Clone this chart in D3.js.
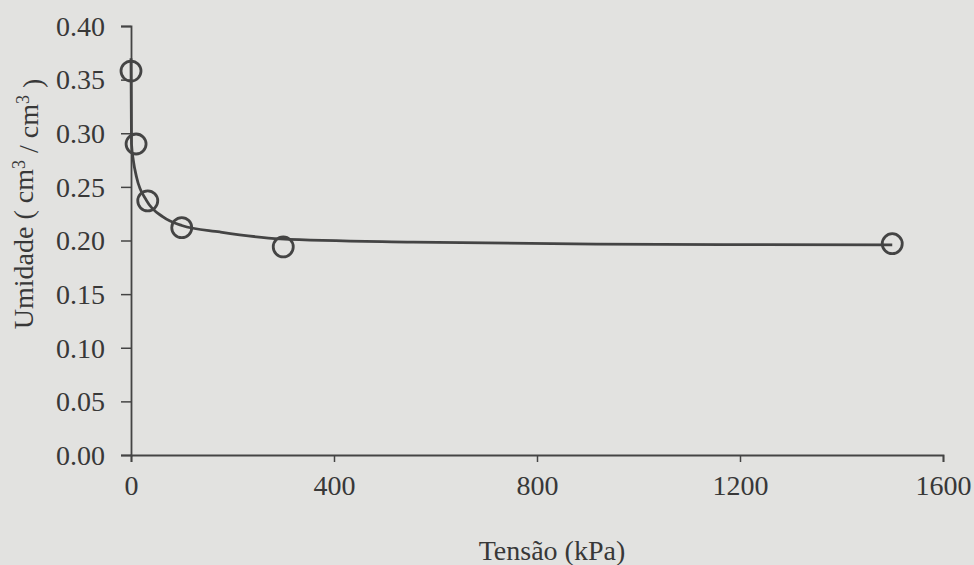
<!DOCTYPE html>
<html>
<head>
<meta charset="utf-8">
<script src="https://cdn.jsdelivr.net/npm/d3@7"></script>
<style>
  html, body { margin: 0; padding: 0; background: #e2e2e0; }
  svg { display: block; }
  text { font-family: "Liberation Serif", "Times New Roman", serif; fill: #383838; }
</style>
</head>
<body>
<svg id="chart" width="974" height="565"></svg>
<script>
// Observed points (tension kPa, moisture cm3/cm3)
const obsTension = [0, 10, 33, 100, 300, 1500];
const obsMoisture = [0.358, 0.290, 0.237, 0.212, 0.194, 0.197];

// Fitted curve
const curveTension = [0, 1, 4.5, 11, 31, 63, 100, 175, 294, 556, 917, 1200, 1500];
const curveMoisture = [0.37, 0.29, 0.275, 0.259, 0.237, 0.222, 0.214, 0.208, 0.2015, 0.1985, 0.1966, 0.1962, 0.196];

const xTicks = [0, 400, 800, 1200, 1600];
const yTicks = [0, 0.05, 0.10, 0.15, 0.20, 0.25, 0.30, 0.35, 0.40];

const xTitle = "Tensão (kPa)";

const svg = d3.select("#chart");
const ink = "#444444";
const fontStack = '"Liberation Serif", "Times New Roman", serif';

const x = d3.scaleLinear().domain([0, 1600]).range([131, 943]);
const y = d3.scaleLinear().domain([0, 0.40]).range([455, 26]);

// Y axis
const gy = svg.append("g").attr("transform", `translate(${x(0)},0)`)
  .call(d3.axisLeft(y).tickValues(yTicks).tickFormat(d3.format(".2f")).tickSize(10).tickSizeOuter(10).tickPadding(16));
// X axis
const gx = svg.append("g").attr("transform", `translate(0,${y(0)})`)
  .call(d3.axisBottom(x).tickValues(xTicks).tickFormat(d3.format("d")).tickSize(7).tickSizeOuter(7).tickPadding(13));

[gx, gy].forEach(g => {
  g.attr("font-family", null).attr("font-size", null);
  g.selectAll("path.domain").attr("stroke", ink).attr("stroke-width", 1.8);
  g.selectAll(".tick line").attr("stroke", ink).attr("stroke-width", 1.5);
  g.selectAll(".tick text").style("font-size", "28px").attr("fill", "#383838")
    .style("font-family", fontStack);
});
gy.selectAll(".tick text").attr("dy", "0.33em");

// Curve
const curveData = curveTension.map((t, i) => [t, curveMoisture[i]]);
svg.append("path")
  .datum(curveData)
  .attr("fill", "none")
  .attr("stroke", ink)
  .attr("stroke-width", 2.8)
  .attr("d", d3.line().x(d => x(d[0])).y(d => y(d[1])).curve(d3.curveMonotoneX));

// Points
svg.append("g").selectAll("circle")
  .data(obsTension.map((t, i) => [t, obsMoisture[i]]))
  .join("circle")
  .attr("cx", d => x(d[0]))
  .attr("cy", d => y(d[1]))
  .attr("r", 10)
  .attr("fill", "none")
  .attr("stroke", ink)
  .attr("stroke-width", 2.8);

// X title
svg.append("text")
  .attr("x", 552).attr("y", 560)
  .attr("text-anchor", "middle")
  .style("font-size", "28px")
  .text(xTitle);

// Y title
const yt = svg.append("text")
  .attr("transform", "translate(33,204) rotate(-90)")
  .attr("text-anchor", "middle")
  .style("font-size", "28px");
yt.append("tspan").text("Umidade ( cm");
yt.append("tspan").attr("dy", "-0.45em").style("font-size", "18px").text("3");
yt.append("tspan").attr("dy", "0.45em").text(" / cm");
yt.append("tspan").attr("dy", "-0.45em").style("font-size", "18px").text("3");
yt.append("tspan").attr("dy", "0.45em").text(" )");
</script>
</body>
</html>
